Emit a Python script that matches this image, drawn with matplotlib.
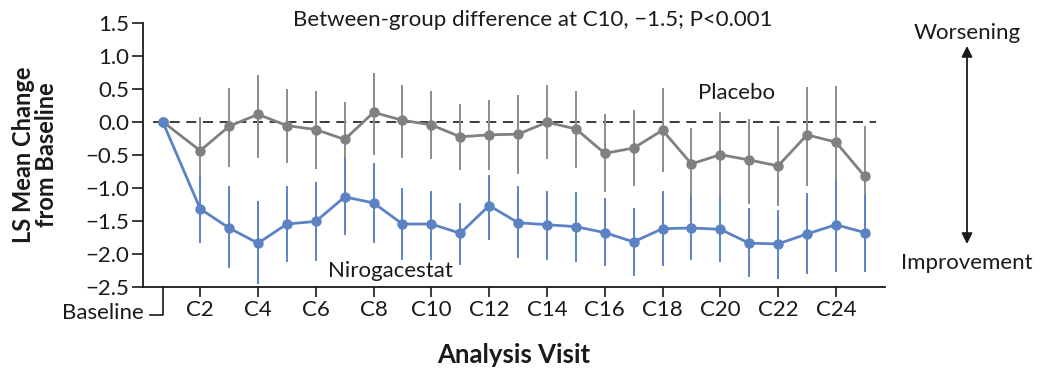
import numpy as np
import matplotlib.pyplot as plt

plt.rcParams['font.family'] = ['Lato', 'DejaVu Sans']

# visits: baseline then C2..C25
visits = ['Baseline'] + ['C%d' % i for i in range(2, 26)]
visit_x = [0.7] + list(range(2, 26))

placebo = [0.0, -0.44, -0.07, 0.11, -0.06, -0.12, -0.27, 0.14, 0.02, -0.05, -0.23, -0.20,
           -0.19, -0.01, -0.11, -0.48, -0.40, -0.13, -0.64, -0.50, -0.58, -0.67, -0.20, -0.31, -0.83]
placebo_hi = [0.0, 0.07, 0.51, 0.71, 0.49, 0.47, 0.29, 0.74, 0.56, 0.47, 0.27, 0.33,
              0.41, 0.56, 0.47, 0.12, 0.18, 0.51, -0.09, 0.14, 0.04, -0.07, 0.53, 0.54, -0.07]
placebo_lo = [0.0, -0.95, -0.68, -0.55, -0.62, -0.71, -0.86, -0.50, -0.55, -0.57, -0.73, -0.73,
              -0.80, -0.57, -0.70, -1.06, -0.97, -0.77, -1.19, -1.13, -1.24, -1.28, -0.97, -1.19, -1.59]

niro = [0.0, -1.32, -1.61, -1.84, -1.55, -1.51, -1.14, -1.23, -1.55, -1.55, -1.69, -1.27,
        -1.53, -1.56, -1.59, -1.68, -1.82, -1.62, -1.61, -1.63, -1.84, -1.85, -1.70, -1.56, -1.68]
niro_hi = [0.0, -0.81, -0.98, -1.20, -0.98, -0.91, -0.55, -0.63, -1.00, -1.05, -1.23, -0.81,
           -0.98, -1.05, -1.07, -1.16, -1.31, -1.05, -1.11, -1.12, -1.31, -1.34, -1.08, -0.87, -1.09]
niro_lo = [0.0, -1.84, -2.22, -2.46, -2.13, -2.11, -1.71, -1.84, -2.09, -2.09, -2.17, -1.79,
           -2.07, -2.09, -2.13, -2.19, -2.33, -2.18, -2.09, -2.13, -2.35, -2.38, -2.31, -2.27, -2.28]

gray = '#808080'
gray_bar = '#8c8c8c'
blue = '#5b83c4'
ink = '#1a1a1a'

fig = plt.figure(figsize=(10.4, 3.72), dpi=100)
ax = fig.add_axes([0.1375, 0.229, 0.7135, 0.7105])

x = np.array(visit_x, dtype=float)
ax.plot([0.36, 25.4], [0, 0], color=ink, lw=1.2, dashes=(6, 4), zorder=1)

for y, lo, hi, c, cb in [(placebo, placebo_lo, placebo_hi, gray, gray_bar),
                         (niro, niro_lo, niro_hi, blue, blue)]:
    y = np.array(y)
    yerr = [y - np.array(lo), np.array(hi) - y]
    ax.errorbar(x[1:], y[1:], yerr=[yerr[0][1:], yerr[1][1:]], fmt='none',
                ecolor=cb, elinewidth=1.4, capsize=0, zorder=2)
    ax.plot(x, y, color=c, lw=2, marker='o', ms=6.5, zorder=3)

ax.set_xlim(0.02, 25.7)
ax.set_ylim(-2.5, 1.5)
yt = np.arange(-2.5, 1.51, 0.5)
ax.set_yticks(yt)
ax.set_yticklabels(['%.1f' % v if v >= 0 else '\u2212%.1f' % -v for v in yt])
even = [i for i in range(2, 26, 2)]
ax.set_xticks(even)
ax.set_xticklabels(['C%d' % i for i in even])
ax.tick_params(axis='y', length=8, width=1.2, labelsize=16, pad=2, colors=ink)
ax.tick_params(axis='x', length=7.5, width=1.2, labelsize=16, pad=2, colors=ink)
for s in ['top', 'right']:
    ax.spines[s].set_visible(False)
for s in ['left', 'bottom']:
    ax.spines[s].set_linewidth(1.3)
    ax.spines[s].set_color(ink)

# baseline bracket tick
tr = ax.get_xaxis_transform()
ax.plot([visit_x[0], visit_x[0], 0.26], [0, -0.107, -0.107], color=ink,
        lw=1.2, transform=tr, clip_on=False)
ax.text(0.05, -0.1, visits[0], transform=tr, ha='right', va='center', fontsize=16,
        color=ink)

ax.set_ylabel('LS Mean Change\nfrom Baseline', fontsize=17, fontweight='bold',
              linespacing=1.0, va='center', color=ink)
ax.yaxis.set_label_coords(-0.145, 0.5)
ax.set_xlabel('Analysis Visit', fontsize=18.5, fontweight='bold', va='center', color=ink)
ax.xaxis.set_label_coords(0.5, -0.258)

ax.text(13.5, 1.54, 'Between-group difference at C10, \u22121.5; P<0.001', ha='center',
        va='center', fontsize=16, color=ink)
ax.text(20.57, 0.44, 'Placebo', ha='center', va='center', fontsize=16, color=ink)
ax.text(8.6, -2.26, 'Nirogacestat', ha='center', va='center', fontsize=16, color=ink)

fig.text(967 / 1040, 1 - 33 / 372, 'Worsening', ha='center', va='center', fontsize=16,
         color=ink)
fig.text(967 / 1040, 1 - 263 / 372, 'Improvement', ha='center', va='center', fontsize=16,
         color=ink)
ax.annotate('', xy=(967 / 1040, 1 - 46 / 372), xytext=(967 / 1040, 1 - 244 / 372),
            xycoords='figure fraction', textcoords='figure fraction',
            arrowprops=dict(arrowstyle='<|-|>', color=ink, lw=1.3,
                            mutation_scale=16, shrinkA=0, shrinkB=0))

fig.savefig('out.png', dpi=100)
